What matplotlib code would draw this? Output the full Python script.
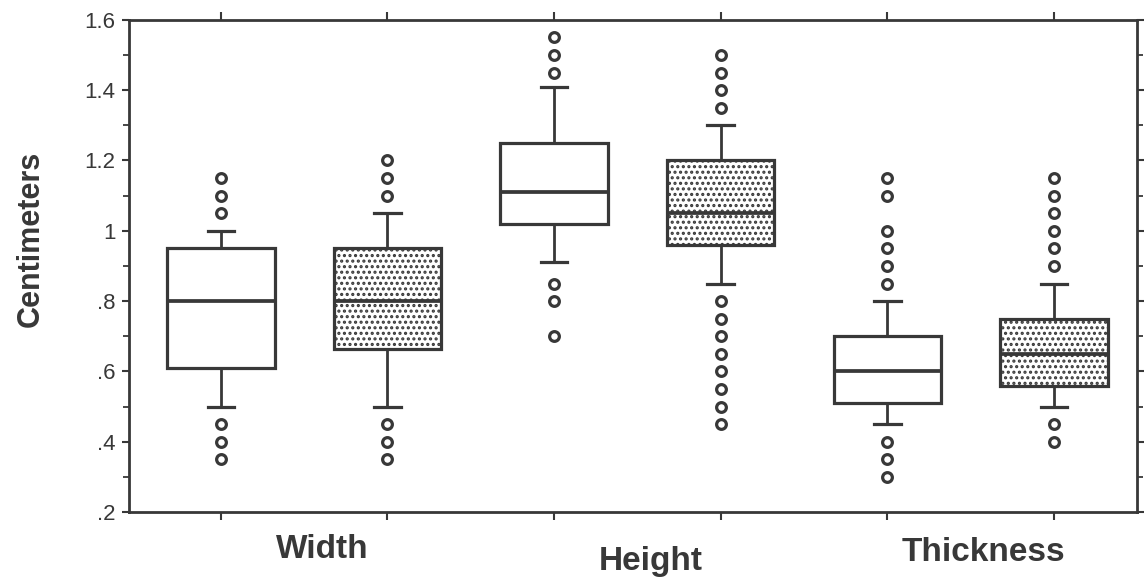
import matplotlib
matplotlib.use('Agg')
import matplotlib.pyplot as plt
from matplotlib.ticker import MultipleLocator, FuncFormatter
from matplotlib.transforms import blended_transform_factory

plt.rcParams['font.family'] = ['Liberation Sans', 'DejaVu Sans']
plt.rcParams['hatch.linewidth'] = 1.5

# box statistics, white / dotted pairs for each measure
groups = ['Width', 'Height', 'Thickness']
q1 = [0.61, 0.665, 1.02, 0.96, 0.51, 0.56]
med = [0.80, 0.80, 1.11, 1.05, 0.60, 0.65]
q3 = [0.95, 0.95, 1.25, 1.20, 0.70, 0.75]
whis_lo = [0.50, 0.50, 0.91, 0.85, 0.45, 0.50]
whis_hi = [1.00, 1.05, 1.41, 1.30, 0.80, 0.85]
fliers = [
    [1.05, 1.10, 1.15, 0.45, 0.40, 0.35],
    [1.10, 1.15, 1.20, 0.45, 0.40, 0.35],
    [1.45, 1.50, 1.55, 0.85, 0.80, 0.70],
    [1.35, 1.40, 1.45, 1.50, 0.80, 0.75, 0.70, 0.65, 0.60, 0.55, 0.50, 0.45],
    [0.85, 0.90, 0.95, 1.00, 1.10, 1.15, 0.40, 0.35, 0.30],
    [0.90, 0.95, 1.00, 1.05, 1.10, 1.15, 0.45, 0.40],
]
shaded = [False, True, False, True, False, True]

ink = '#383838'

stats = []
for i in range(len(med)):
    stats.append({'med': med[i], 'q1': q1[i], 'q3': q3[i],
                  'whislo': whis_lo[i], 'whishi': whis_hi[i],
                  'fliers': fliers[i]})

fig = plt.figure(figsize=(11.44, 5.82), dpi=100)
ax = fig.add_axes([0.113, 0.12, 0.881, 0.846])

pos = list(range(1, len(stats) + 1))
bp = ax.bxp(stats, positions=pos, widths=0.645, capwidths=0.16,
            patch_artist=True,
            boxprops=dict(facecolor='white', edgecolor=ink, linewidth=2.3),
            whiskerprops=dict(color=ink, linewidth=2.0),
            capprops=dict(color=ink, linewidth=2.3),
            medianprops=dict(color=ink, linewidth=2.7),
            flierprops=dict(marker='o', markersize=7, markerfacecolor='none',
                            markeredgecolor=ink, markeredgewidth=2.3))

for box, dotted in zip(bp['boxes'], shaded):
    if dotted:
        box.set_hatch('...')

ax.set_xlim(0.45, 6.5)
ax.set_ylim(0.2, 1.6)
ax.set_xticks(pos)
ax.set_xticklabels([])
ax.yaxis.set_major_locator(MultipleLocator(0.2))
ax.yaxis.set_minor_locator(MultipleLocator(0.1))

def fmt(v, p):
    s = ('%.1f' % v).rstrip('0').rstrip('.')
    if s.startswith('0'):
        s = s[1:]
    return s

ax.yaxis.set_major_formatter(FuncFormatter(fmt))
ax.tick_params(axis='x', which='both', top=True, bottom=True, direction='out',
               length=6, width=1.5, color=ink)
ax.tick_params(axis='y', which='major', left=True, right=True, direction='out',
               length=5, width=1.5, color=ink, labelsize=16, labelcolor=ink, pad=5)
ax.tick_params(axis='y', which='minor', left=True, right=True, direction='out',
               length=4, width=1.3, color=ink)
for sp in ax.spines.values():
    sp.set_linewidth(2.0)
    sp.set_color(ink)

# group names under each pair of boxes
trans = blended_transform_factory(ax.transData, fig.transFigure)
label_x = [1.61, 3.58, 5.58]
label_y = [0.055, 0.036, 0.05]
for name, lx, ly in zip(groups, label_x, label_y):
    ax.text(lx, ly, name, transform=trans, ha='center', va='center',
            fontsize=24, fontweight='bold', color=ink)

fig.text(0.027, 0.589, 'Centimeters', rotation=90, ha='center', va='center',
         fontsize=22, fontweight='bold', color=ink)

fig.savefig('out.png', dpi=100, facecolor='white')
